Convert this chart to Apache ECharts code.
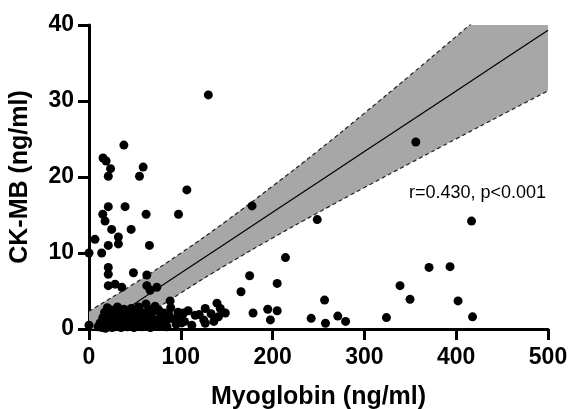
<!DOCTYPE html>
<html>
<head>
<meta charset="utf-8">
<script src="https://cdn.jsdelivr.net/npm/echarts@6/dist/echarts.min.js"></script>
<style>html,body{margin:0;padding:0;background:#fff;}#c{width:569px;height:409px;}</style>
</head>
<body>
<div id="c"></div>
<script>
// Scatter points: [Myoglobin, CK-MB]
var points = [
  [130,30.8],[38,24.2],[15.3,22.5],[18.6,22.1],[23.5,21.1],[21,20.1],[59,21.3],[55,20.1],[106.6,18.3],
  [15,15.1],[21,16.1],[17.5,14.2],[39.3,16.1],[24.7,13.1],[45.9,13.1],[62.2,15.1],[97.5,15.1],
  [32,12.1],[32,11.2],[6.5,11.8],[13.8,10.0],[21,11.0],[65.8,11.0],[0,10],
  [21,8.1],[21,7.2],[48.4,7.4],[21,5.7],[28.4,5.9],[35.7,5.5],[63,7.1],[63,5.7],[73.9,5.5],[66.6,5.1],
  [88.4,3.7],[0,0.5],
  [177.6,16.2],[248.6,14.4],[214,9.4],[175,7.0],[205,6.0],[165.6,4.9],[256.6,3.8],[178.7,2.1],[194.7,2.6],
  [205,2.4],[197.6,1.2],[242,1.4],[257.6,0.75],[271,1.7],[279.5,1.0],
  [139.4,3.4],[143,2.7],[148.5,2.1],[126.6,2.7],[115.7,1.8],[126.6,0.75],[141,1.6],[103,2.1],[101,0.8],
  [416.7,14.2],[370.4,8.1],[393.3,8.2],[338.8,5.7],[349.7,3.9],[402,3.7],[324,1.5],[417.8,1.6],[356,24.6],
  [10,0.3],[12,0.8],[14,0.2],[15,1.5],[16,0.6],[17,2.2],[18,0.1],[19,1.1],[20,2.8],[21,0.4],[22,1.8],
  [23,0.9],[24,2.5],[25,0.2],[26,1.3],[27,0.7],[28,2.0],[29,0.3],[30,1.6],[31,2.9],[32,0.5],[33,1.0],
  [34,2.3],[35,0.2],[36,1.4],[37,0.8],[38,2.6],[39,0.4],[40,1.9],[41,1.2],[42,0.3],[43,2.1],[44,0.9],
  [45,1.5],[46,2.7],[47,0.6],[48,1.1],[49,0.2],[50,2.4],[51,1.7],[52,0.7],[53,1.0],[54,2.9],[55,0.4],
  [56,1.6],[57,2.2],[58,0.3],[59,1.3],[60,0.8],[61,2.0],[62,3.3],[63,1.1],[64,0.5],[65,2.6],[66,1.8],
  [67,0.2],[68,1.4],[70,2.3],[71,0.9],[72,3.0],[74,1.2],[75,0.4],[76,2.5],[78,1.7],[80,0.7],[82,2.1],
  [84,1.0],[85,0.3],[87,1.9],[89,2.8],[92,1.3],[95,0.6],[97,2.2],[99,1.5],[104,1.0],[108,2.4],[112,0.5],
  [120,1.9],[125,1.2],[133,2.0],[136,1.0]
];
// Regression line and 95% confidence band read at these x positions
var fitX     = [0, 50, 100, 150, 200, 250, 300, 350, 400, 450, 500];
var fitLine  = [-0.63, 3.37, 7.36, 11.36, 15.35, 19.35, 23.34, 27.34, 31.33, 35.33, 39.32];
var ciUpper  = [2.34, 6.03, 9.98, 14.25, 18.8, 23.5, 28.4, 33.4, 38.5, 43.6, 48.7];
var ciLower  = [-3.6, 0.71, 4.74, 8.47, 11.97, 15.34, 18.61, 21.83, 25.02, 28.19, 31.34];
var xTicks = [0, 100, 200, 300, 400, 500];
var yTicks = [0, 10, 20, 30, 40];
var statText = 'r=0.430, p<0.001';

function zip(a, b) { return a.map(function (v, i) { return [v, b[i]]; }); }

var FONT = '"Liberation Sans", Arial, Helvetica, sans-serif';
var chart = echarts.init(document.getElementById('c'), null, {renderer: 'canvas'});
chart.setOption({
  animation: false,
  backgroundColor: '#fff',
  grid: {left: 89, right: 21, top: 25, bottom: 80, containLabel: false, outerBoundsMode: 'none'},
  xAxis: {
    type: 'value', min: xTicks[0], max: xTicks[xTicks.length - 1], interval: 100,
    name: 'Myoglobin (ng/ml)', nameLocation: 'middle', nameGap: 56,
    nameTextStyle: {fontFamily: FONT, fontWeight: 'bold', fontSize: 25, color: '#000'},
    axisLine: {show: true, onZero: false, lineStyle: {color: '#000', width: 3}},
    axisTick: {show: true, inside: false, length: 11, lineStyle: {color: '#000', width: 3}},
    axisLabel: {fontFamily: FONT, fontWeight: 'bold', fontSize: 23, color: '#000', margin: 17},
    splitLine: {show: false}
  },
  yAxis: {
    type: 'value', min: yTicks[0], max: yTicks[yTicks.length - 1], interval: 10,
    name: 'CK-MB (ng/ml)', nameLocation: 'middle', nameGap: 56, nameRotate: 90,
    nameTextStyle: {fontFamily: FONT, fontWeight: 'bold', fontSize: 25, color: '#000'},
    axisLine: {show: true, onZero: false, lineStyle: {color: '#000', width: 3}},
    axisTick: {show: true, inside: false, length: 11, lineStyle: {color: '#000', width: 3}},
    axisLabel: {fontFamily: FONT, fontWeight: 'bold', fontSize: 23, color: '#000', margin: 15},
    splitLine: {show: false}
  },
  graphic: [{
    type: 'text', left: 409, top: 184, z: 100,
    style: {text: statText, fontFamily: FONT, fontSize: 18, fill: '#000'}
  }],
  series: [
    {
      type: 'custom', clip: true, z: 1,
      data: zip(fitX, ciUpper),
      renderItem: function (params, api) {
        if (params.dataIndex !== 0) return null;
        var pts = [];
        for (var i = 0; i < fitX.length; i++) pts.push(api.coord([fitX[i], ciUpper[i]]));
        for (var j = fitX.length - 1; j >= 0; j--) pts.push(api.coord([fitX[j], ciLower[j]]));
        return {type: 'polygon', shape: {points: pts, smooth: 0}, style: {fill: '#a7a7a7', stroke: null}};
      }
    },
    {
      type: 'line', data: zip(fitX, ciUpper), smooth: true, symbol: 'none', z: 2, clip: true,
      lineStyle: {color: '#222', width: 1.2, type: [4, 3]}
    },
    {
      type: 'line', data: zip(fitX, ciLower), smooth: true, symbol: 'none', z: 2, clip: true,
      lineStyle: {color: '#222', width: 1.2, type: [4, 3]}
    },
    {
      type: 'line', data: zip(fitX, fitLine), symbol: 'none', z: 3, clip: true,
      lineStyle: {color: '#000', width: 1.2}
    },
    {
      type: 'scatter', data: points, symbol: 'circle', symbolSize: 9, z: 4,
      itemStyle: {color: '#000', opacity: 1}
    }
  ]
});
</script>
</body>
</html>
